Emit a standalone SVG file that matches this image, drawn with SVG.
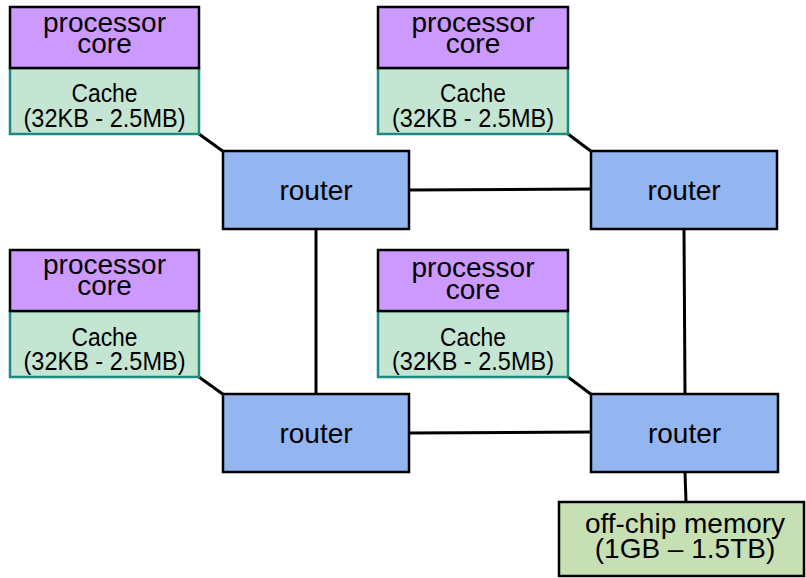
<svg xmlns="http://www.w3.org/2000/svg" width="806" height="578" viewBox="0 0 806 578">
  <style>
    .core { fill: #cc99ff; stroke: #000; stroke-width: 2.5; }
    .cache { fill: #c5e5d3; stroke: #1f8a80; stroke-width: 2.5; }
    .router { fill: #93b5f0; stroke: #000; stroke-width: 2.5; }
    .mem { fill: #c6e0b4; stroke: #000; stroke-width: 2.5; }
    .wire { stroke: #000; stroke-width: 3; fill: none; }
    text { font-family: "Liberation Sans", Arial, sans-serif; fill: #000; text-anchor: middle; }
    .t28 { font-size: 28px; }
    .t26 { font-size: 26.5px; }
  </style>

  <!-- links between caches, routers and memory -->
  <g id="connectors">
    <line class="wire" x1="199" y1="134" x2="224" y2="152"/>
    <line class="wire" x1="568" y1="134" x2="592" y2="152"/>
    <line class="wire" x1="199" y1="377" x2="224" y2="395"/>
    <line class="wire" x1="568" y1="377" x2="592" y2="395"/>
    <line class="wire" x1="409" y1="190" x2="591" y2="189"/>
    <line class="wire" x1="409" y1="433" x2="591" y2="432"/>
    <line class="wire" x1="316" y1="229" x2="316" y2="394"/>
    <line class="wire" x1="684" y1="229" x2="685" y2="394"/>
    <line class="wire" x1="685" y1="472" x2="686" y2="502"/>
  </g>

  <g id="tile1">
    <rect class="cache" x="10" y="68" width="189" height="66"/>
    <rect class="core" x="10" y="7" width="189" height="61"/>
    <text class="t28" x="104.5" y="32">processor</text>
    <text class="t28" x="104.5" y="53">core</text>
    <text class="t26" x="104.5" y="102" textLength="66" lengthAdjust="spacingAndGlyphs">Cache</text>
    <text class="t26" x="104.5" y="127" textLength="162" lengthAdjust="spacingAndGlyphs">(32KB - 2.5MB)</text>
  </g>

  <g id="tile2">
    <rect class="cache" x="378" y="68" width="190" height="66"/>
    <rect class="core" x="378" y="7" width="190" height="61"/>
    <text class="t28" x="473" y="32">processor</text>
    <text class="t28" x="473" y="53">core</text>
    <text class="t26" x="473" y="102" textLength="66" lengthAdjust="spacingAndGlyphs">Cache</text>
    <text class="t26" x="473" y="127" textLength="162" lengthAdjust="spacingAndGlyphs">(32KB - 2.5MB)</text>
  </g>

  <g id="tile3">
    <rect class="cache" x="10" y="311" width="189" height="66"/>
    <rect class="core" x="10" y="250" width="189" height="61"/>
    <text class="t28" x="104.5" y="274">processor</text>
    <text class="t28" x="104.5" y="295">core</text>
    <text class="t26" x="104.5" y="346" textLength="66" lengthAdjust="spacingAndGlyphs">Cache</text>
    <text class="t26" x="104.5" y="370" textLength="162" lengthAdjust="spacingAndGlyphs">(32KB - 2.5MB)</text>
  </g>

  <g id="tile4">
    <rect class="cache" x="378" y="311" width="190" height="66"/>
    <rect class="core" x="378" y="250" width="190" height="61"/>
    <text class="t28" x="473" y="277">processor</text>
    <text class="t28" x="473" y="299">core</text>
    <text class="t26" x="473" y="346" textLength="66" lengthAdjust="spacingAndGlyphs">Cache</text>
    <text class="t26" x="473" y="370" textLength="162" lengthAdjust="spacingAndGlyphs">(32KB - 2.5MB)</text>
  </g>

  <g id="router1">
    <rect class="router" x="223" y="151" width="186" height="78"/>
    <text class="t28" x="316" y="200">router</text>
  </g>

  <g id="router2">
    <rect class="router" x="591" y="151" width="186" height="78"/>
    <text class="t28" x="684" y="200">router</text>
  </g>

  <g id="router3">
    <rect class="router" x="223" y="394" width="186" height="78"/>
    <text class="t28" x="316" y="443">router</text>
  </g>

  <g id="router4">
    <rect class="router" x="591" y="394" width="187" height="78"/>
    <text class="t28" x="684.5" y="443">router</text>
  </g>

  <g id="memory">
    <rect class="mem" x="559" y="502" width="245" height="74"/>
    <text class="t28" x="685" y="533">off-chip memory</text>
    <text class="t28" x="685" y="558">(1GB – 1.5TB)</text>
  </g>
</svg>
